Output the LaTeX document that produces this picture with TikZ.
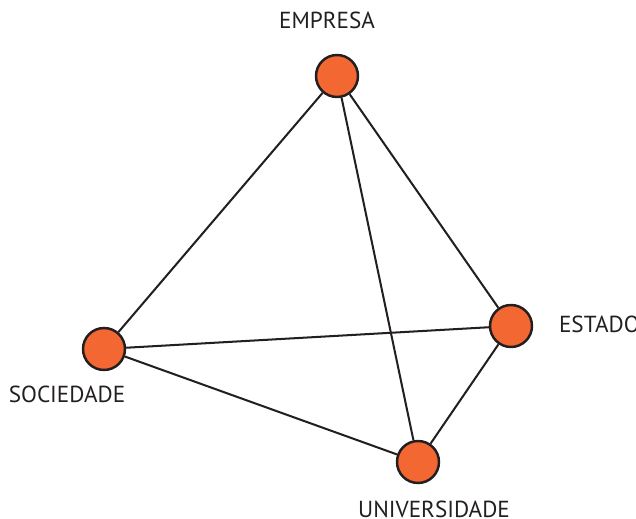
\documentclass[tikz,border=0pt]{standalone}
\usepackage{fontspec}
\setmainfont{PT Sans}
\definecolor{nodeorange}{RGB}{242,103,50}
\definecolor{inkgray}{RGB}{35,31,32}

\begin{document}
\begin{tikzpicture}[x=0.02cm, y=-0.02cm, line width=1.15pt,
  actor/.style={circle, draw=inkgray, line width=1.4pt, fill=nodeorange, minimum size=0.84cm, inner sep=0pt},
  tag/.style={text=inkgray, font=\fontsize{13.2}{15}\selectfont, inner sep=0pt}]
\useasboundingbox (0,0) rectangle (636,519);

\node[actor] (emp) at (337,76) {};
\node[actor] (est) at (511,326) {};
\node[actor] (soc) at (104,349) {};
\node[actor] (uni) at (418,462) {};

\draw[inkgray] (emp) -- (soc);
\draw[inkgray] (emp) -- (est);
\draw[inkgray] (emp) -- (uni);
\draw[inkgray] (soc) -- (est);
\draw[inkgray] (soc) -- (uni);
\draw[inkgray] (est) -- (uni);

\node[tag] (empl) at (327,20) {EMPRESA};
\node[tag, anchor=west] (estl) at (558,324) {ESTADO};
\node[tag] (socl) at (67,394) {SOCIEDADE};
\node[tag] (unil) at (434,509) {UNIVERSIDADE};

\end{tikzpicture}
\end{document}
